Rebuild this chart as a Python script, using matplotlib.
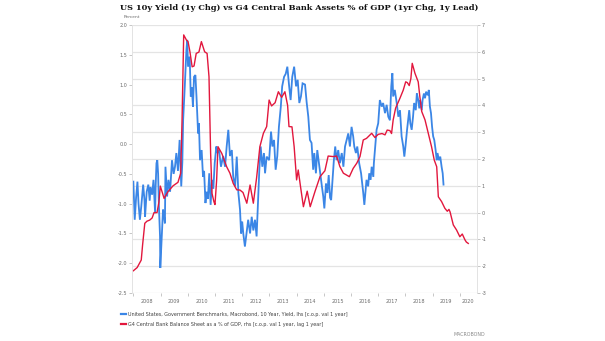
import matplotlib
matplotlib.use("Agg")
import matplotlib.pyplot as plt
from matplotlib.lines import Line2D

# US 10y Treasury yield, 1-year change (percentage points, left axis)
yield_years = [
    2008.00, 2008.05, 2008.10, 2008.15, 2008.19, 2008.24, 2008.29, 2008.36, 2008.41, 2008.43,
    2008.49, 2008.55, 2008.60, 2008.63, 2008.69, 2008.74, 2008.80, 2008.82, 2008.85, 2008.88,
    2008.91, 2008.94, 2008.98, 2008.99, 2009.04, 2009.09, 2009.13, 2009.16, 2009.18, 2009.22,
    2009.24, 2009.29, 2009.35, 2009.42, 2009.48, 2009.53, 2009.58, 2009.64, 2009.70, 2009.76,
    2009.80, 2009.83, 2009.89, 2009.95, 2009.98, 2010.01, 2010.07, 2010.11, 2010.15, 2010.19,
    2010.23, 2010.28, 2010.32, 2010.38, 2010.41, 2010.45, 2010.51, 2010.56, 2010.60, 2010.65,
    2010.69, 2010.74, 2010.79, 2010.84, 2010.89, 2010.94, 2010.99, 2011.05, 2011.09, 2011.15,
    2011.22, 2011.30, 2011.37, 2011.43, 2011.49, 2011.55, 2011.62, 2011.67, 2011.74, 2011.80,
    2011.86, 2011.92, 2011.96, 2012.00, 2012.04, 2012.10, 2012.17, 2012.22, 2012.29, 2012.35,
    2012.41, 2012.47, 2012.53, 2012.59, 2012.63, 2012.68, 2012.74, 2012.80, 2012.84, 2012.90,
    2012.99, 2013.06, 2013.11, 2013.17, 2013.23, 2013.29, 2013.35, 2013.42, 2013.47, 2013.54,
    2013.60, 2013.66, 2013.72, 2013.78, 2013.84, 2013.91, 2013.98, 2014.04, 2014.10, 2014.16,
    2014.22, 2014.31, 2014.37, 2014.43, 2014.49, 2014.55, 2014.61, 2014.65, 2014.71, 2014.76,
    2014.82, 2014.88, 2014.93, 2014.98, 2015.02, 2015.08, 2015.13, 2015.18, 2015.23, 2015.27,
    2015.33, 2015.37, 2015.42, 2015.47, 2015.53, 2015.59, 2015.66, 2015.72, 2015.78, 2015.84,
    2015.90, 2015.96, 2016.02, 2016.08, 2016.12, 2016.18, 2016.23, 2016.30, 2016.37, 2016.41,
    2016.45, 2016.49, 2016.54, 2016.57, 2016.63, 2016.67, 2016.72, 2016.76, 2016.82, 2016.84,
    2016.89, 2016.94, 2017.00, 2017.06, 2017.13, 2017.18, 2017.25, 2017.31, 2017.37, 2017.43,
    2017.48, 2017.52, 2017.55, 2017.61, 2017.68, 2017.74, 2017.80, 2017.86, 2017.92, 2017.96,
    2018.01, 2018.06, 2018.10, 2018.14, 2018.18, 2018.23, 2018.28, 2018.32, 2018.38, 2018.42,
    2018.47, 2018.51, 2018.54, 2018.60, 2018.63, 2018.68, 2018.72, 2018.76, 2018.82, 2018.86,
    2018.90, 2018.94, 2018.98, 2019.02, 2019.06, 2019.11, 2019.15, 2019.18, 2019.23, 2019.28,
    2019.33, 2019.37, 2019.40,
]
yield_chg = [
    -0.63, -1.27, -0.90, -0.63, -1.00, -1.27, -1.05, -0.68, -0.95, -1.22,
    -0.80, -0.68, -0.95, -0.72, -0.85, -0.60, -1.16, -0.70, -0.32, -0.27,
    -0.50, -1.05, -1.55, -2.08, -1.60, -1.10, -1.22, -1.33, -0.38, -0.70,
    -0.88, -0.60, -0.80, -0.27, -0.50, -0.38, -0.15, -0.45, 0.07, -0.71,
    -0.30, 0.41, 0.97, 1.58, 1.75, 1.30, 1.47, 0.80, 0.95, 0.63,
    1.13, 1.16, 0.80, 0.18, 0.35, -0.27, -0.10, -0.55, -0.45, -0.99,
    -0.80, -0.92, -0.49, -1.02, -0.60, -0.75, -0.32, -0.04, -0.15, -0.10,
    -0.38, -0.20, -0.38, -0.04, 0.24, -0.20, -0.10, -0.55, -0.71, -0.21,
    -0.82, -1.10, -1.50, -1.30, -1.50, -1.72, -1.45, -1.27, -1.50, -1.22,
    -1.45, -1.27, -1.55, -0.88, -0.43, -0.04, -0.38, -0.15, -0.49, -0.21,
    -0.27, 0.21, -0.04, 0.07, -0.43, -0.20, 0.29, 0.63, 0.97, 1.13,
    1.18, 1.30, 1.00, 0.74, 1.13, 1.30, 0.97, 1.08, 0.69, 0.80,
    1.02, 1.00, 0.70, 0.46, 0.07, 0.02, -0.43, -0.15, -0.49, -0.10,
    -0.32, -0.55, -0.71, -0.88, -1.08, -0.66, -0.82, -0.52, -0.90, -0.94,
    -0.55, -0.27, -0.04, -0.27, -0.10, -0.32, -0.15, -0.38, -0.04, 0.07,
    0.18, -0.04, 0.29, 0.13, -0.04, -0.15, -0.04, -0.32, -0.49, -0.66,
    -0.82, -1.02, -0.77, -0.60, -0.71, -0.49, -0.60, -0.38, -0.55, -0.32,
    -0.04, 0.24, 0.35, 0.74, 0.63, 0.69, 0.52, 0.66, 0.46, 0.40,
    0.97, 1.19, 0.80, 0.91, 0.69, 0.46, 0.57, 0.13, -0.04, -0.21,
    0.00, 0.24, 0.40, 0.57, 0.35, 0.24, 0.46, 0.69, 0.57, 0.85,
    0.74, 0.60, 0.74, 0.57, 0.74, 0.85, 0.77, 0.88, 0.82, 0.91,
    0.63, 0.52, 0.29, 0.13, 0.07, -0.10, -0.27, -0.15, -0.27, -0.21,
    -0.38, -0.49, -0.68,
]

# G4 central bank balance sheets as % of GDP, 1-year change, led 1 year (right axis)
cb_years = [
    2008.00, 2008.14, 2008.29, 2008.34, 2008.42, 2008.50, 2008.60, 2008.69, 2008.76, 2008.87,
    2008.94, 2008.99, 2009.13, 2009.27, 2009.46, 2009.64, 2009.74, 2009.79, 2009.85, 2009.95,
    2010.01, 2010.08, 2010.16, 2010.23, 2010.31, 2010.41, 2010.50, 2010.62, 2010.71, 2010.78,
    2010.84, 2010.89, 2010.96, 2011.00, 2011.06, 2011.11, 2011.25, 2011.43, 2011.55, 2011.67,
    2011.80, 2011.92, 2012.03, 2012.17, 2012.29, 2012.41, 2012.53, 2012.65, 2012.78, 2012.90,
    2012.99, 2013.08, 2013.21, 2013.33, 2013.45, 2013.57, 2013.67, 2013.72, 2013.83, 2013.91,
    2014.00, 2014.06, 2014.14, 2014.25, 2014.39, 2014.50, 2014.68, 2014.86, 2015.04, 2015.16,
    2015.35, 2015.47, 2015.59, 2015.72, 2015.94, 2016.08, 2016.21, 2016.33, 2016.45, 2016.57,
    2016.76, 2016.88, 2017.00, 2017.14, 2017.25, 2017.33, 2017.43, 2017.49, 2017.55, 2017.64,
    2017.80, 2017.92, 2018.01, 2018.07, 2018.14, 2018.20, 2018.25, 2018.35, 2018.47, 2018.53,
    2018.60, 2018.72, 2018.84, 2018.96, 2019.06, 2019.15, 2019.21, 2019.33, 2019.45, 2019.54,
    2019.60, 2019.64, 2019.76, 2019.88, 2020.00, 2020.09, 2020.19, 2020.24, 2020.31,
]
cb_chg = [
    -2.17, -2.05, -1.77, -1.20, -0.40, -0.32, -0.28, -0.20, 0.00, 0.00,
    0.40, 0.99, 0.53, 0.78, 1.00, 1.13, 1.47, 3.45, 6.63, 6.44,
    6.38, 6.00, 5.44, 5.47, 5.94, 5.99, 6.38, 6.00, 5.94, 5.07,
    2.21, 0.72, 0.41, 0.30, 1.20, 2.46, 2.21, 1.71, 1.47, 1.09,
    0.85, 0.84, 0.75, 0.35, 1.03, 0.35, 1.30, 2.46, 2.96, 3.21,
    4.20, 3.98, 4.10, 4.51, 4.30, 4.51, 4.00, 3.21, 3.20, 2.46,
    1.22, 1.59, 1.00, 0.22, 0.80, 0.22, 0.80, 1.34, 1.56, 2.11,
    2.09, 2.11, 1.72, 1.47, 1.34, 1.65, 1.84, 2.09, 2.71, 2.77,
    2.96, 2.80, 2.92, 2.95, 2.90, 3.08, 3.06, 2.95, 3.46, 3.90,
    4.27, 4.57, 4.88, 4.85, 4.74, 5.00, 5.57, 5.20, 4.88, 4.33,
    3.77, 3.46, 2.96, 2.46, 1.96, 1.71, 0.59, 0.41, 0.16, 0.05,
    0.12, 0.03, -0.46, -0.65, -0.90, -0.80, -1.02, -1.10, -1.15,
]

year_ticks = list(range(2008, 2021))
year_labels = [str(y) for y in year_ticks]
left_ticks = [-2.5, -2.0, -1.5, -1.0, -0.5, 0.0, 0.5, 1.0, 1.5, 2.0]
right_ticks = list(range(-3, 8))

BLUE = "#3b86e6"
RED = "#e2173d"
TICK_GREY = "#6b6b6b"
X_MIN, X_MAX = 2007.95, 2020.62

fig = plt.figure(figsize=(6.05, 3.41), dpi=100)
fig.patch.set_facecolor("white")
pos = [132 / 605, 48 / 341, 344.7 / 605, 268 / 341]

# background axes carrying only the horizontal grid (right-axis scale)
gax = fig.add_axes(pos)
gax.set_xlim(X_MIN, X_MAX)
gax.set_ylim(-3, 7)
for r in right_ticks:
    gax.axhline(r, color="#e4e4e4", lw=0.9, zorder=0)
gax.set_xticks([])
gax.set_yticks([])
for s in gax.spines.values():
    s.set_visible(False)

# left axis: yield change
ax = fig.add_axes(pos)
ax.patch.set_visible(False)
ax.plot(yield_years, yield_chg, color=BLUE, lw=1.3, solid_joinstyle="miter")
ax.set_xlim(X_MIN, X_MAX)
ax.set_ylim(-2.5, 2.0)
ax.set_yticks(left_ticks)
ax.set_yticklabels([f"{v:.1f}" for v in left_ticks])

# right axis: central bank balance sheet change
ax2 = ax.twinx()
ax2.plot(cb_years, cb_chg, color=RED, lw=1.0, solid_joinstyle="round")
ax2.set_ylim(-3, 7)
ax2.set_yticks(right_ticks)
ax2.set_yticklabels([str(v) for v in right_ticks])

# x axis: tick marks at year starts, labels centred on the visible part of each year
label_pos = [(max(y, X_MIN) + min(y + 1, X_MAX)) / 2 for y in year_ticks]
ax.set_xticks(year_ticks)
ax.set_xticklabels([])
ax.set_xticks(label_pos, minor=True)
ax.set_xticklabels(year_labels, minor=True)
ax.tick_params(axis="x", which="major", length=2.2, width=0.5, color="#b0b0b0", direction="out")
ax.tick_params(axis="x", which="minor", length=0, pad=4.5, labelsize=3.5, labelcolor=TICK_GREY)
ax.tick_params(axis="y", length=2.0, width=0.5, color="#b0b0b0", pad=1.5,
               labelsize=3.5, labelcolor=TICK_GREY)
ax2.tick_params(axis="y", length=2.0, width=0.5, color="#b0b0b0", pad=1.5,
                labelsize=3.5, labelcolor=TICK_GREY)

for a in (ax, ax2):
    for name, s in a.spines.items():
        s.set_visible(name in ("left", "right"))
        s.set_color("#e3e3e3")
        s.set_linewidth(0.6)

# title and axis caption
fig.text(120 / 605, 1 - 8.5 / 341,
         "US 10y Yield (1y Chg) vs G4 Central Bank Assets % of GDP (1yr Chg, 1y Lead)",
         family="DejaVu Serif", fontweight="heavy", fontsize=5.95, color="#111111",
         ha="left", va="center")
fig.text(124 / 605, 1 - 17.5 / 341, "Percent", fontsize=3.2, color=TICK_GREY,
         ha="left", va="center")

# legend
legend_items = [
    (BLUE, "United States, Government Benchmarks, Macrobond, 10 Year, Yield, lhs [c.o.p. val 1 year]"),
    (RED, "G4 Central Bank Balance Sheet as a % of GDP, rhs [c.o.p. val 1 year, lag 1 year]"),
]
for i, (col, txt) in enumerate(legend_items):
    yy = 1 - (314.3 + 10 * i) / 341
    fig.add_artist(Line2D([120.5 / 605, 126 / 605], [yy, yy], color=col, lw=1.6,
                          transform=fig.transFigure))
    fig.text(127.8 / 605, yy, txt, fontsize=3.55, color="#404040", ha="left", va="center")

fig.text(485 / 605, 1 - 334 / 341, "MACROBOND", fontsize=3.4, color="#8a8a8a",
         ha="right", va="center")

fig.savefig("out.png", dpi=100, facecolor="white")
